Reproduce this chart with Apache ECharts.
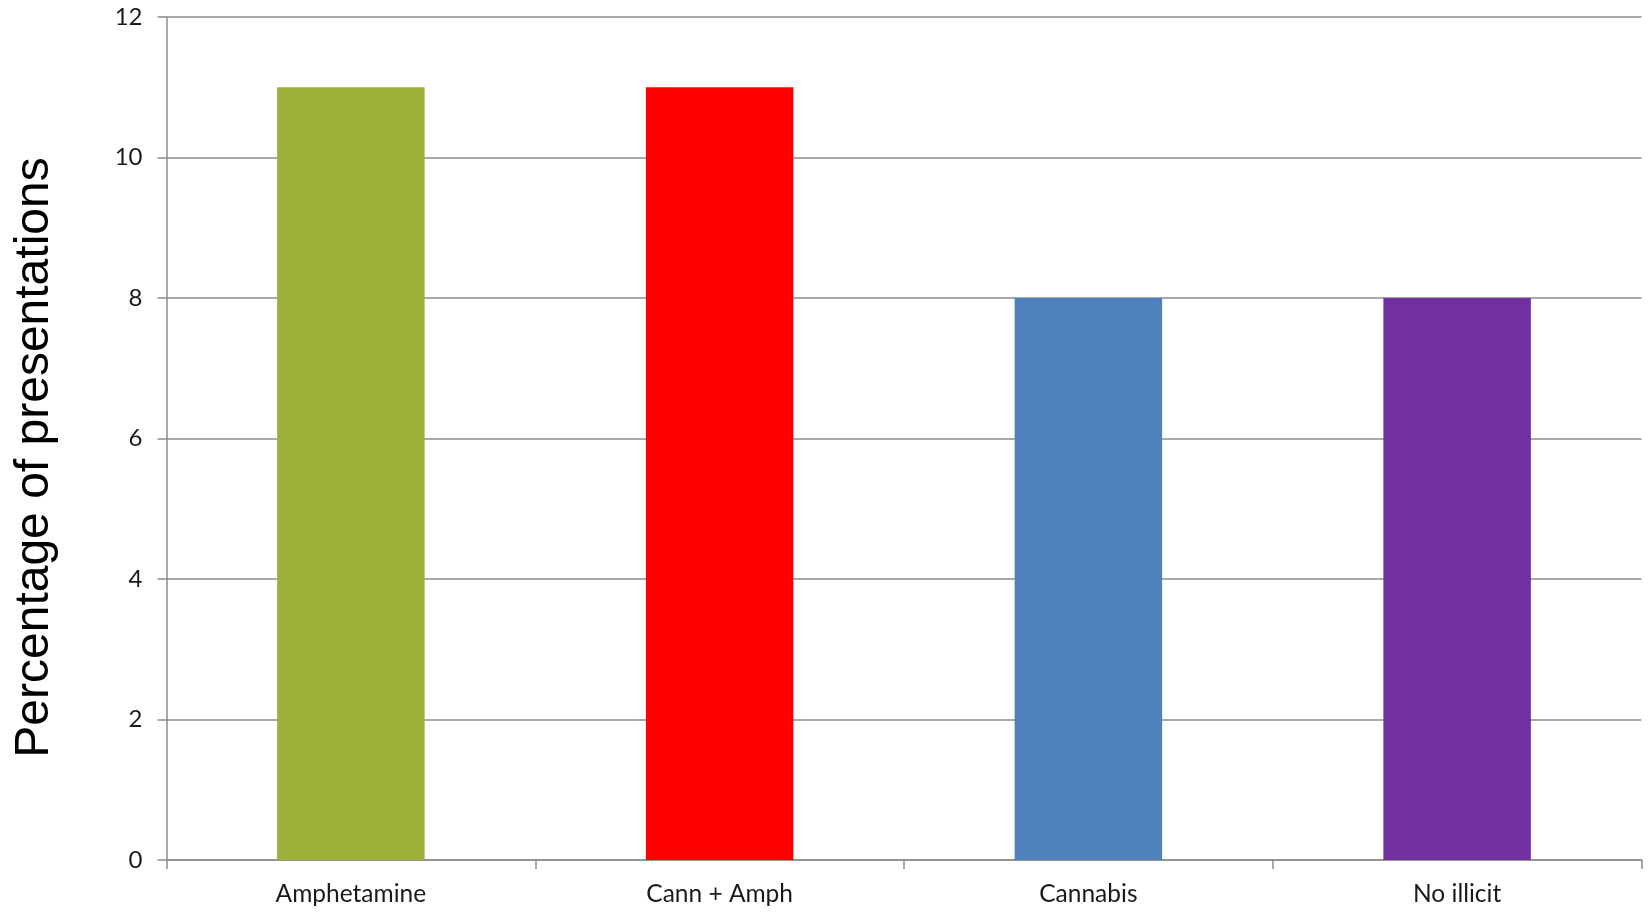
<!DOCTYPE html>
<html>
<head>
<meta charset="utf-8">
<script src="https://cdn.jsdelivr.net/npm/echarts@6/dist/echarts.min.js"></script>
<style>
  html, body { margin: 0; padding: 0; background: #ffffff; }
  #chart { width: 1652px; height: 913px; }
</style>
</head>
<body>
<div id="chart"></div>
<script>
// Share of presentations by substance group
const categories = ['Amphetamine', 'Cann + Amph', 'Cannabis', 'No illicit'];
const values = [11, 11, 8, 8];
const barColors = ['#9FB03A', '#FF0000', '#4F81BD', '#7030A0'];
const yTicks = [0, 2, 4, 6, 8, 10, 12];
const yTitle = 'Percentage of presentations';

const gridColor = '#8C8C8C';

const chart = echarts.init(document.getElementById('chart'), null, { renderer: 'canvas' });

chart.setOption({
  animation: false,
  backgroundColor: '#ffffff',
  grid: { left: 166.5, right: 10.5, top: 17, bottom: 53, containLabel: false },
  xAxis: {
    type: 'category',
    data: categories,
    boundaryGap: true,
    axisLine: { show: true, lineStyle: { color: gridColor, width: 1.5 } },
    axisTick: { show: true, length: 9, alignWithLabel: false, lineStyle: { color: gridColor, width: 1.5 } },
    axisLabel: {
      margin: 22,
      color: '#1a1a1a',
      fontFamily: 'Lato',
      fontSize: 24.5
    }
  },
  yAxis: {
    type: 'value',
    min: yTicks[0],
    max: yTicks[yTicks.length - 1],
    interval: 2,
    name: yTitle,
    nameLocation: 'middle',
    nameGap: 108,
    nameTextStyle: {
      fontFamily: 'Liberation Sans',
      fontSize: 48,
      color: '#000000',
      padding: [0, 38, 0, 0]
    },
    axisLine: { show: true, lineStyle: { color: gridColor, width: 1.5 } },
    axisTick: { show: true, length: 9, lineStyle: { color: gridColor, width: 1.5 } },
    axisLabel: {
      margin: 24,
      color: '#1a1a1a',
      fontFamily: 'Lato',
      fontSize: 24,
      formatter: v => String(v)
    },
    splitLine: { show: true, lineStyle: { color: gridColor, width: 1.5 } }
  },
  series: [{
    type: 'bar',
    data: values.map((v, i) => ({ value: v, itemStyle: { color: barColors[i] } })),
    barWidth: '40%'
  }]
});
</script>
</body>
</html>
